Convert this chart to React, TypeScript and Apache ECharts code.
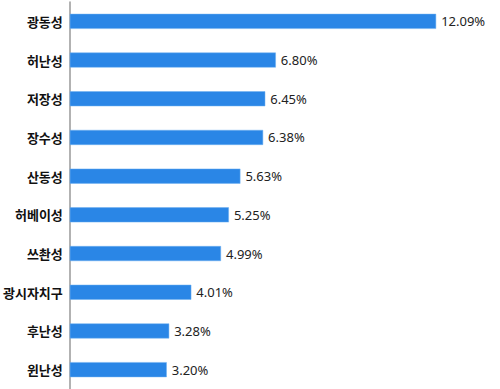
import React, { useEffect, useRef } from "react";
import * as echarts from "echarts";

const categories = ["광동성", "허난성", "저장성", "장수성", "산동성", "허베이성", "쓰촨성", "광시자치구", "후난성", "윈난성"];
const values = [12.09, 6.8, 6.45, 6.38, 5.63, 5.25, 4.99, 4.01, 3.28, 3.2];

export default function App() {
  const ref = useRef<HTMLDivElement>(null);
  useEffect(() => {
    const chart = echarts.init(ref.current!, null, { renderer: "svg" });
    chart.setOption({
      animation: false,
      grid: { left: 68, right: 6, top: 2, bottom: 0 },
      xAxis: { type: "value", min: 0, max: 14, show: false },
      yAxis: {
        type: "category",
        data: categories,
        inverse: true,
        axisLine: { show: true, lineStyle: { color: "#999", width: 1.5 } },
        axisTick: { show: false },
        axisLabel: {
          margin: 7,
          color: "#111",
          fontSize: 13,
          fontWeight: "bold",
          fontFamily: "Noto Sans CJK KR",
        },
      },
      series: [
        {
          type: "bar",
          data: values,
          barWidth: 15,
          itemStyle: { color: "#2a86e6", borderColor: "#6fb0f0", borderWidth: 0.5 },
          label: {
            show: true,
            position: "right",
            distance: 5,
            color: "#222",
            fontSize: 13,
            fontFamily: "Noto Sans",
            formatter: (p: any) => p.value.toFixed(2) + "%",
          },
        },
      ],
    });
    return () => chart.dispose();
  }, []);
  return <div ref={ref} style={{ width: 500, height: 389, position: "absolute", left: 0, top: 0 }} />;
}
